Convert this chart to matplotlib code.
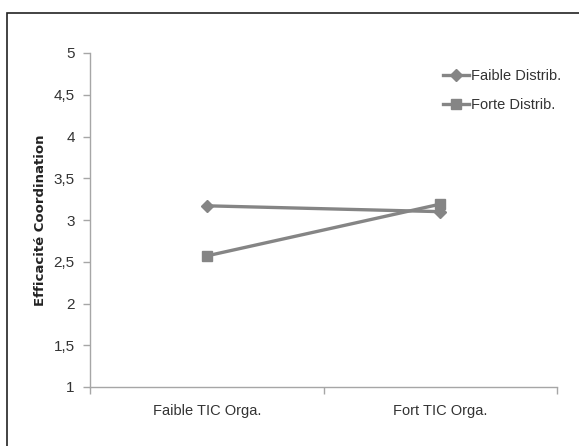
import matplotlib.pyplot as plt
from matplotlib.patches import Rectangle

# ---------------------
# Data
# ---------------------
categories = ["Faible TIC Orga.", "Fort TIC Orga."]
faible_distrib = [3.17, 3.10]
forte_distrib = [2.57, 3.19]
y_ticks = [1, 1.5, 2, 2.5, 3, 3.5, 4, 4.5, 5]
y_tick_labels = ["1", "1,5", "2", "2,5", "3", "3,5", "4", "4,5", "5"]

LINE_COLOR = "#858585"
AXIS_COLOR = "#a6a6a6"
TEXT_COLOR = "#333333"
FONT = ["Liberation Sans", "DejaVu Sans"]

fig = plt.figure(figsize=(5.79, 4.46), dpi=100)
fig.patch.set_facecolor("white")

# outer frame (only top and left visible in the crop)
fig.patches.append(Rectangle((7 / 579, -0.1), 1.2, (446 - 13) / 446 + 0.1,
                             transform=fig.transFigure, fill=False,
                             edgecolor="#222222", linewidth=1.2))

ax = fig.add_axes([90 / 579, (446 - 387) / 446, (557 - 90) / 579, (387 - 53) / 446])

xpos = [0.5, 1.5]
ax.plot(xpos, faible_distrib, color=LINE_COLOR, linewidth=2.4, marker="D",
        markersize=6.5, label="Faible Distrib.")
ax.plot(xpos, forte_distrib, color=LINE_COLOR, linewidth=2.4, marker="s",
        markersize=7.5, label="Forte Distrib.")

ax.set_xlim(0, 2)
ax.set_ylim(1, 5)
ax.set_yticks(y_ticks)
ax.set_yticklabels(y_tick_labels, fontfamily=FONT, fontsize=11, color=TEXT_COLOR)
ax.set_xticks([0, 1, 2])
ax.set_xticklabels([])
ax.set_xticks(xpos, minor=True)
ax.set_xticklabels(categories, minor=True, fontfamily=FONT, fontsize=10.5,
                   color=TEXT_COLOR)
ax.tick_params(axis="x", which="minor", length=0, pad=12)
ax.tick_params(axis="both", which="major", length=5, color=AXIS_COLOR, width=1)
ax.tick_params(axis="y", pad=6)

for side in ["top", "right"]:
    ax.spines[side].set_visible(False)
for side in ["left", "bottom"]:
    ax.spines[side].set_color(AXIS_COLOR)
    ax.spines[side].set_linewidth(1)

ax.set_ylabel("Efficacité Coordination", fontsize=9.5, fontweight="bold",
              fontfamily="DejaVu Sans", labelpad=5, color="#222222")

leg = ax.legend(loc="upper left", bbox_to_anchor=(0.756, 0.952), frameon=False,
                prop={"family": FONT, "size": 10.5}, handlelength=1.8,
                handletextpad=0.1, labelspacing=1.0, borderaxespad=0,
                borderpad=0)
for t in leg.get_texts():
    t.set_color(TEXT_COLOR)

plt.savefig("out.png", dpi=100)
plt.close()
